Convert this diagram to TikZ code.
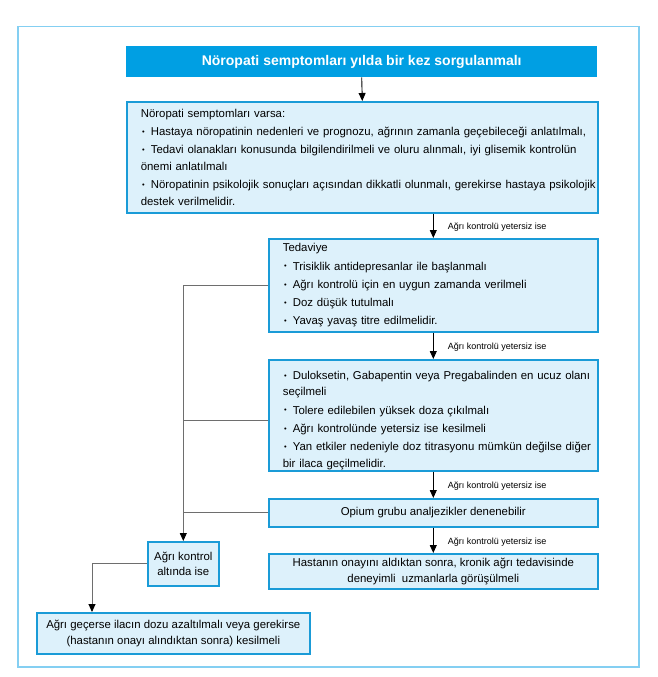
\documentclass[tikz,border=0pt]{standalone}
\usepackage{fontspec}
\setmainfont{Liberation Sans}
\usetikzlibrary{arrows.meta}
\definecolor{boxfill}{HTML}{DDF1FB}
\definecolor{boxline}{HTML}{1A9BD7}
\definecolor{titlefill}{HTML}{009FE3}
\definecolor{framecol}{HTML}{84CFF2}
\definecolor{linkgray}{HTML}{6E6E6E}
\newcommand\bodyfont{\fontsize{11.4pt}{16.6pt}\selectfont}
\newcommand\bhead[1]{\noindent #1}
\newcommand\bitem[1]{\par\hangindent=10pt\hangafter=1\noindent\makebox[10pt][l]{\hspace{1.2pt}\raisebox{1.2pt}{\fontsize{7.5pt}{7.5pt}\selectfont •}}#1}
\begin{document}
\begin{tikzpicture}[x=1pt,y=-1pt,
  box/.style={draw=boxline, fill=boxfill, line width=1.6pt, anchor=north west, inner sep=0pt},
  listbox/.style={box, align=left, inner xsep=14pt, font=\bodyfont,
    execute at begin node={\setlength\parskip{1.6pt}}},
  centerbox/.style={box, align=center, font=\fontsize{11.4pt}{15.5pt}\selectfont},
  arr/.style={line width=0.9pt, -{Triangle[width=7pt,length=8pt]}},
  glink/.style={draw=linkgray, line width=0.9pt},
  garr/.style={glink, -{Triangle[width=7pt,length=8pt,color=black]}},
  lbl/.style={font=\fontsize{9pt}{10pt}\selectfont, anchor=west, inner sep=0pt, xshift=14pt, yshift=-1.5pt}]

\useasboundingbox (0,0) rectangle (658,677);

\node[draw=framecol, line width=1.5pt, anchor=north west, minimum width=621pt, minimum height=640pt, inner sep=0pt] (frame) at (17,26) {};

\node[fill=titlefill, anchor=north west, minimum width=471pt, minimum height=31pt, inner sep=0pt, text=white, font=\fontsize{14pt}{16pt}\selectfont\bfseries] (t) at (126,46) {Nöropati semptomları yılda bir kez sorgulanmalı};

\node[listbox, minimum width=471pt, minimum height=111pt, text width=443pt] (b2) at (126,101) {\bhead{Nöropati semptomları varsa:}
\bitem{\mbox{Hastaya nöropatinin nedenleri ve prognozu, ağrının zamanla geçebileceği anlatılmalı,}}
\bitem{\mbox{Tedavi olanakları konusunda bilgilendirilmeli ve oluru alınmalı, iyi glisemik kontrolün}\\önemi anlatılmalı}
\bitem{\mbox{Nöropatinin psikolojik sonuçları açısından dikkatli olunmalı, gerekirse hastaya psikolojik}\\destek verilmelidir.}};

\node[listbox, minimum width=329pt, minimum height=93pt, text width=301pt] (b3) at (268,238) {\bhead{Tedaviye}
\bitem{Trisiklik antidepresanlar ile başlanmalı}
\bitem{Ağrı kontrolü için en uygun zamanda verilmeli}
\bitem{Doz düşük tutulmalı}
\bitem{Yavaş yavaş titre edilmelidir.}};

\node[listbox, minimum width=329pt, minimum height=111pt, text width=301pt] (b4) at (268,359) {\bitem{\mbox{Duloksetin, Gabapentin veya Pregabalinden en ucuz olanı}\\seçilmeli}
\bitem{Tolere edilebilen yüksek doza çıkılmalı}
\bitem{Ağrı kontrolünde yetersiz ise kesilmeli}
\bitem{\mbox{Yan etkiler nedeniyle doz titrasyonu mümkün değilse diğer}\\bir ilaca geçilmelidir.}};

\node[centerbox, minimum width=329pt, minimum height=28pt] (b5) at (268,498) {Opium grubu analjezikler denenebilir};

\node[centerbox, minimum width=329pt, minimum height=35pt] (b6) at (268,553) {Hastanın onayını aldıktan sonra, kronik ağrı tedavisinde\\deneyimli\ \ uzmanlarla görüşülmeli};

\node[centerbox, minimum width=71pt, minimum height=44pt] (b7) at (147,541) {Ağrı kontrol\\altında ise};

\node[centerbox, minimum width=273pt, minimum height=41pt] (b8) at (36,612) {Ağrı geçerse ilacın dozu azaltılmalı veya gerekirse\\(hastanın onayı alındıktan sonra) kesilmeli};

\draw[arr] (t.south) -- (b2.north);
\draw[arr] (b2.south -| b3.north) -- (b3.north) node[lbl, midway] (l1) {Ağrı kontrolü yetersiz ise};
\draw[arr] (b3.south) -- (b4.north) node[lbl, midway] (l2) {Ağrı kontrolü yetersiz ise};
\draw[arr] (b4.south) -- (b5.north) node[lbl, midway] (l3) {Ağrı kontrolü yetersiz ise};
\draw[arr] (b5.south) -- (b6.north) node[lbl, midway] (l4) {Ağrı kontrolü yetersiz ise};

\draw[garr] (b3.west) -| (b7.north);
\draw[glink] ([yshift=-5.5pt]b4.west) -- ([yshift=-5.5pt]b4.west -| b7.north);
\draw[glink] (b5.west) -- (b5.west -| b7.north);
\draw[garr] (b7.west) -| ([xshift=56pt]b8.north west);
\end{tikzpicture}
\end{document}
